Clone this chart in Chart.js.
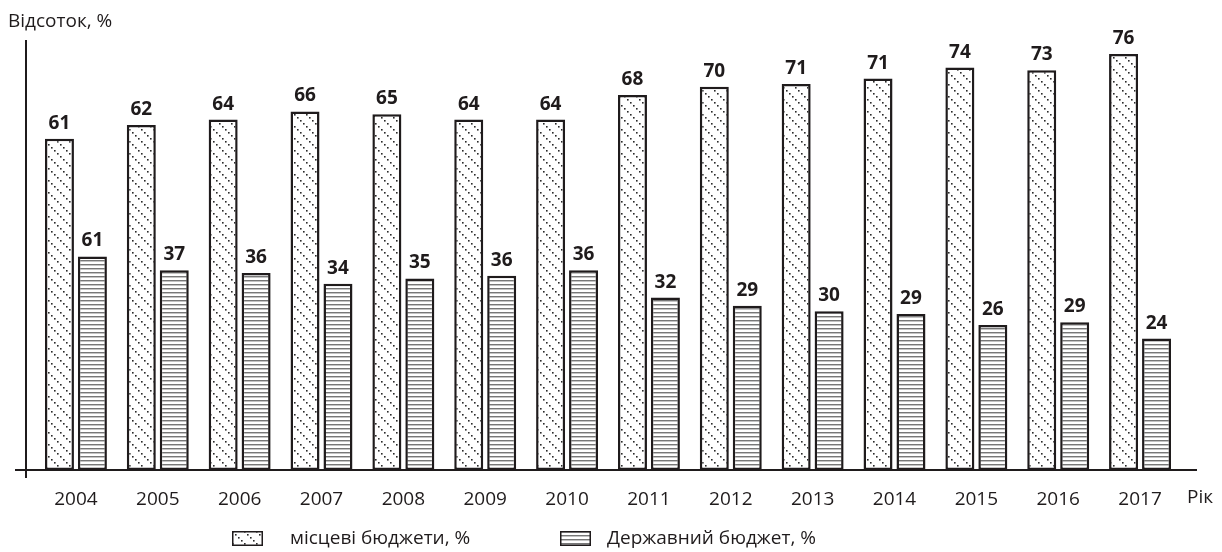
<!DOCTYPE html>
<html>
<head>
<meta charset="utf-8">
<script src="https://cdn.jsdelivr.net/npm/chart.js@4.4.1/dist/chart.umd.min.js"></script>
<style>
  body { margin: 0; background: #fff; }
  #wrap { position: relative; width: 1222px; height: 552px; font-family: "Open Sans", sans-serif; color: #1f1b1c; }
  .sw { position: absolute; top: 531px; }
  .lg { position: absolute; top: 524px; font-size: 19px; line-height: 26px; white-space: nowrap; }
</style>
</head>
<body>
<div id="wrap">
  <canvas id="chart" width="1222" height="552"></canvas>
  <canvas class="sw" id="sw1" width="31" height="15" style="left:232px"></canvas>
  <div class="lg" style="left:290px">місцеві бюджети, %</div>
  <canvas class="sw" id="sw2" width="31" height="15" style="left:560px"></canvas>
  <div class="lg" style="left:607px">Державний бюджет, %</div>
</div>
<script>
// Categories
const years = ["2004", "2005", "2006", "2007", "2008", "2009", "2010",
               "2011", "2012", "2013", "2014", "2015", "2016", "2017"];

// Bar heights
const localValues = [60.5, 63, 64, 65.5, 65, 64, 64, 68.5, 70, 70.5, 71.5, 73.5, 73, 76];
const stateValues = [39, 36.5, 36, 34, 35, 35.5, 36.5, 31.5, 30, 29, 28.5, 26.5, 27, 24];

// Printed labels above the bars (as they appear in the source)
const localLabels = ["61", "62", "64", "66", "65", "64", "64", "68", "70", "71", "71", "74", "73", "76"];
const stateLabels = ["61", "37", "36", "34", "35", "36", "36", "32", "29", "30", "29", "26", "29", "24"];

const seriesNames = ["місцеві бюджети, %", "Державний бюджет, %"];
const yTitle = "Відсоток, %";
const xTitle = "Рік";

const INK = "#1f1b1c";

// Dotted diagonal hatch
function dotPattern() {
    const c = document.createElement("canvas");
    c.width = 12; c.height = 12;
    const g = c.getContext("2d");
    g.fillStyle = "#fff";
    g.fillRect(0, 0, 12, 12);
    g.fillStyle = "#2a2a2a";
    for (let i = 0; i < 4; i++) {
        g.fillRect(i * 3, i * 3, 1.6, 1.6);
    }
    return g.createPattern(c, "repeat");
}

// Horizontal line hatch
function linePattern() {
    const c = document.createElement("canvas");
    c.width = 4; c.height = 4;
    const g = c.getContext("2d");
    g.fillStyle = "#fff";
    g.fillRect(0, 0, 4, 4);
    g.fillStyle = "#777";
    g.fillRect(0, 0, 4, 1);
    g.fillStyle = "#c4c4c4";
    g.fillRect(0, 1, 4, 1);
    return g.createPattern(c, "repeat");
}

const localFill = dotPattern();
const stateFill = linePattern();

// Axis lines and axis titles
const axisLines = {
    id: "axisLines",
    afterDatasetsDraw(chart) {
        const ctx = chart.ctx;
        const area = chart.chartArea;
        const y0 = chart.scales.y.getPixelForValue(0);
        ctx.save();
        ctx.strokeStyle = INK;
        ctx.lineWidth = 2;
        ctx.beginPath();
        ctx.moveTo(area.left - 20, y0);
        ctx.lineTo(area.right + 16, y0);
        ctx.moveTo(area.left - 9, 40);
        ctx.lineTo(area.left - 9, y0 + 8);
        ctx.stroke();
        ctx.fillStyle = INK;
        ctx.font = '19px "Open Sans"';
        ctx.textBaseline = "alphabetic";
        ctx.fillText(yTitle, 8, 27);
        ctx.fillText(xTitle, 1187, 503);
        ctx.restore();
    }
};

// Numbers above the bars
const valueLabels = {
    id: "valueLabels",
    afterDatasetsDraw(chart) {
        const ctx = chart.ctx;
        ctx.save();
        ctx.font = 'bold 19px "Open Sans"';
        ctx.fillStyle = INK;
        ctx.textAlign = "center";
        ctx.textBaseline = "alphabetic";
        chart.data.datasets.forEach((ds, i) => {
            chart.getDatasetMeta(i).data.forEach((bar, j) => {
                ctx.fillText(ds.printed[j], bar.x, bar.y - 10);
            });
        });
        ctx.restore();
    }
};

new Chart(document.getElementById("chart"), {
    type: "bar",
    data: {
        labels: years,
        datasets: [
            {
                label: seriesNames[0],
                data: localValues,
                printed: localLabels,
                backgroundColor: localFill,
                borderColor: INK,
                borderWidth: 2.5,
                borderSkipped: false
            },
            {
                label: seriesNames[1],
                data: stateValues,
                printed: stateLabels,
                backgroundColor: stateFill,
                borderColor: INK,
                borderWidth: 2.5,
                borderSkipped: false
            }
        ]
    },
    options: {
        responsive: false,
        animation: false,
        categoryPercentage: 0.805,
        barPercentage: 0.88,
        layout: { padding: { left: 35, right: 41, top: 32, bottom: 0 } },
        plugins: {
            legend: { display: false },
            tooltip: { enabled: false }
        },
        scales: {
            x: {
                grid: { display: false, drawTicks: false },
                border: { display: false },
                ticks: { font: { family: "Open Sans", size: 19 }, color: INK, padding: 18 },
                afterFit(scale) { scale.height = 82; }
            },
            y: {
                display: false,
                min: 0,
                max: 80
            }
        }
    },
    plugins: [axisLines, valueLabels]
});

// Legend swatches
function swatch(id, fill) {
    const g = document.getElementById(id).getContext("2d");
    g.fillStyle = fill;
    g.fillRect(0, 0, 31, 15);
    g.strokeStyle = INK;
    g.lineWidth = 1.5;
    g.strokeRect(0.75, 0.75, 29.5, 13.5);
}
swatch("sw1", localFill);
swatch("sw2", stateFill);
</script>
</body>
</html>
